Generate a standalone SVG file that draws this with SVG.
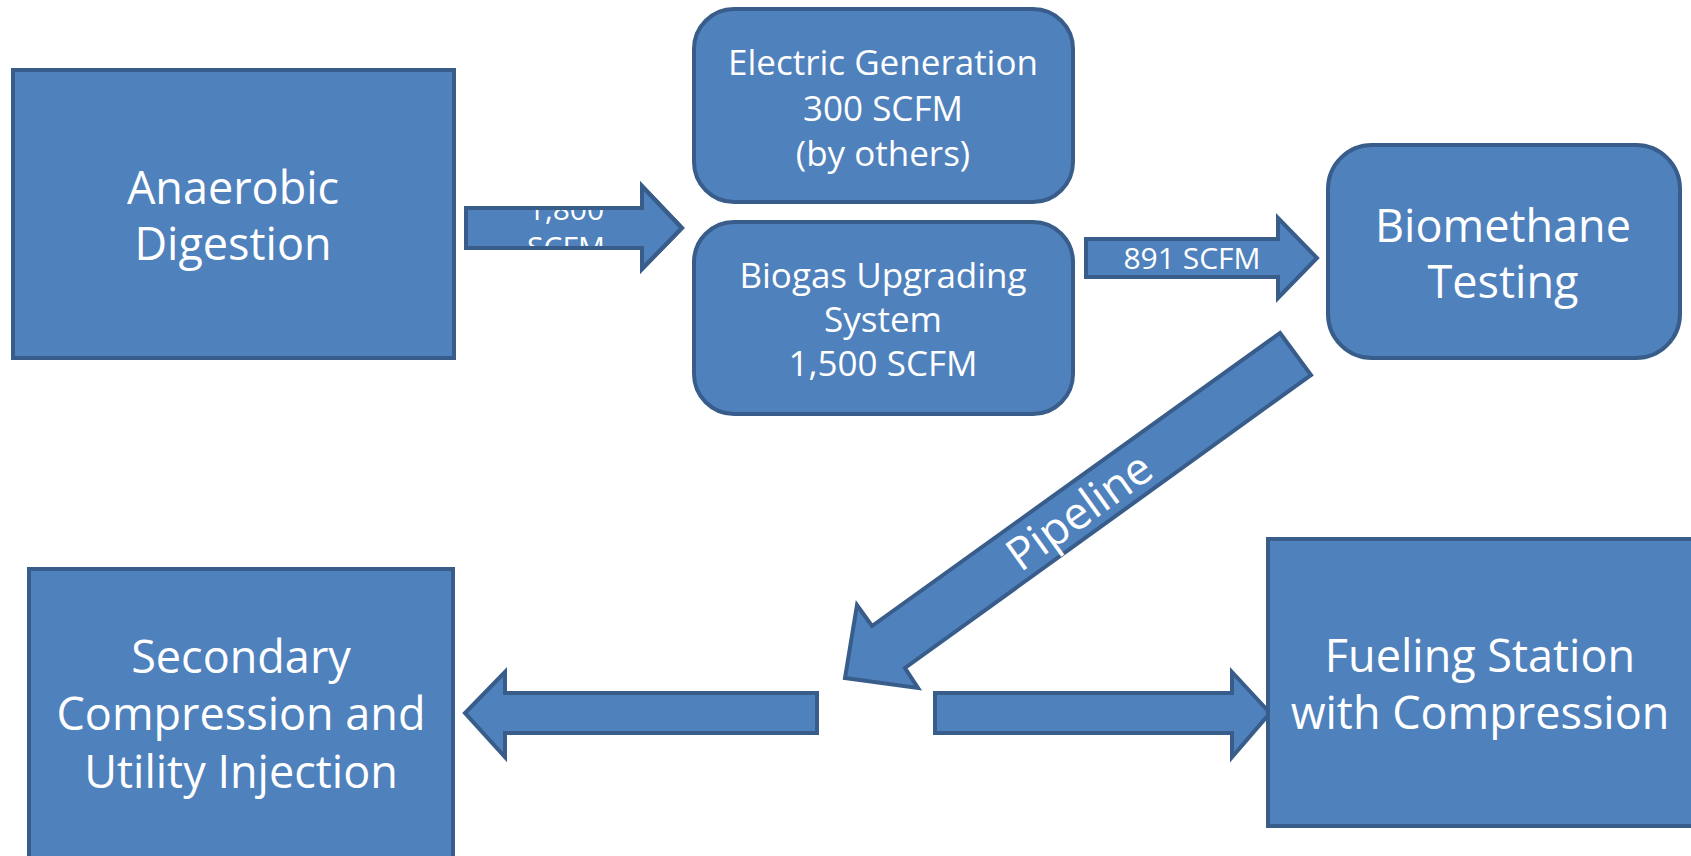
<svg xmlns="http://www.w3.org/2000/svg" width="1691" height="856" viewBox="0 0 1691 856">
<defs>
<style>
.box{fill:#4F81BD;stroke:#385D8A;stroke-width:4}
.arr{fill:#4F81BD;stroke:#385D8A;stroke-width:4;stroke-linejoin:miter}
.edge{fill:none;stroke:#385D8A;stroke-width:4;stroke-linejoin:miter}
text{fill:#FFFFFF;font-family:"Open Sans","Noto Sans","DejaVu Sans",sans-serif;text-anchor:middle}
.big{font-size:45px}
.mid{font-size:35px}
.sm{font-size:30px}
.pipe{font-size:45px}
</style>
<polygon id="a1" points="466,208 642,208 642,186 682,228 642,269 642,248 466,248"/>
<polygon id="a2" points="1086,239 1278,239 1278,218 1317,258 1278,298 1278,277 1086,277"/>
</defs>
<rect width="1691" height="856" fill="#FFFFFF"/>

<g id="connectors">
  <g id="c-digestion-upgrading">
    <use href="#a1" class="arr"/>
    <text class="sm" x="566" y="220">1,800</text>
    <text class="sm" x="566" y="258">SCFM</text>
    <use href="#a1" class="edge"/>
  </g>
  <g id="c-upgrading-testing">
    <use href="#a2" class="arr"/>
    <text class="sm" x="1192" y="269">891 SCFM</text>
  </g>
  <g id="c-pipeline">
    <polygon class="arr" points="1280,333 1311,375 905,668 918,688 845,678 857,605 872,626"/>
    <text class="pipe" transform="translate(1079,511) rotate(-35.7)" x="0" y="16">Pipeline</text>
  </g>
  <polygon id="c-to-secondary" class="arr" points="817,693 505,693 505,672 465,713 505,757 505,733 817,733"/>
  <polygon id="c-to-fueling" class="arr" points="935,693 1232,693 1232,672 1270,713 1232,757 1232,733 935,733"/>
</g>

<g id="node-anaerobic">
  <rect class="box" x="13" y="70" width="441" height="288"/>
  <text class="big" x="233" y="204">Anaerobic</text>
  <text class="big" x="233" y="260">Digestion</text>
</g>

<g id="node-electric">
  <rect class="box" x="694" y="9" width="379" height="193" rx="40" ry="40"/>
  <text class="mid" x="883" y="75">Electric Generation</text>
  <text class="mid" x="883" y="121">300 SCFM</text>
  <text class="mid" x="883" y="166">(by others)</text>
</g>

<g id="node-upgrading">
  <rect class="box" x="694" y="222" width="379" height="192" rx="40" ry="40"/>
  <text class="mid" x="883" y="288">Biogas Upgrading</text>
  <text class="mid" x="883" y="332">System</text>
  <text class="mid" x="883" y="376">1,500 SCFM</text>
</g>

<g id="node-testing">
  <rect class="box" x="1328" y="145" width="352" height="213" rx="44" ry="44"/>
  <text class="big" x="1503" y="242">Biomethane</text>
  <text class="big" x="1503" y="298">Testing</text>
</g>

<g id="node-secondary">
  <rect class="box" x="29" y="569" width="424" height="320"/>
  <text class="big" x="241" y="673">Secondary</text>
  <text class="big" x="241" y="730">Compression and</text>
  <text class="big" x="241" y="788">Utility Injection</text>
</g>

<g id="node-fueling">
  <rect class="box" x="1268" y="539" width="450" height="287"/>
  <text class="big" x="1480" y="672">Fueling Station</text>
  <text class="big" x="1480" y="729">with Compression</text>
</g>
</svg>
